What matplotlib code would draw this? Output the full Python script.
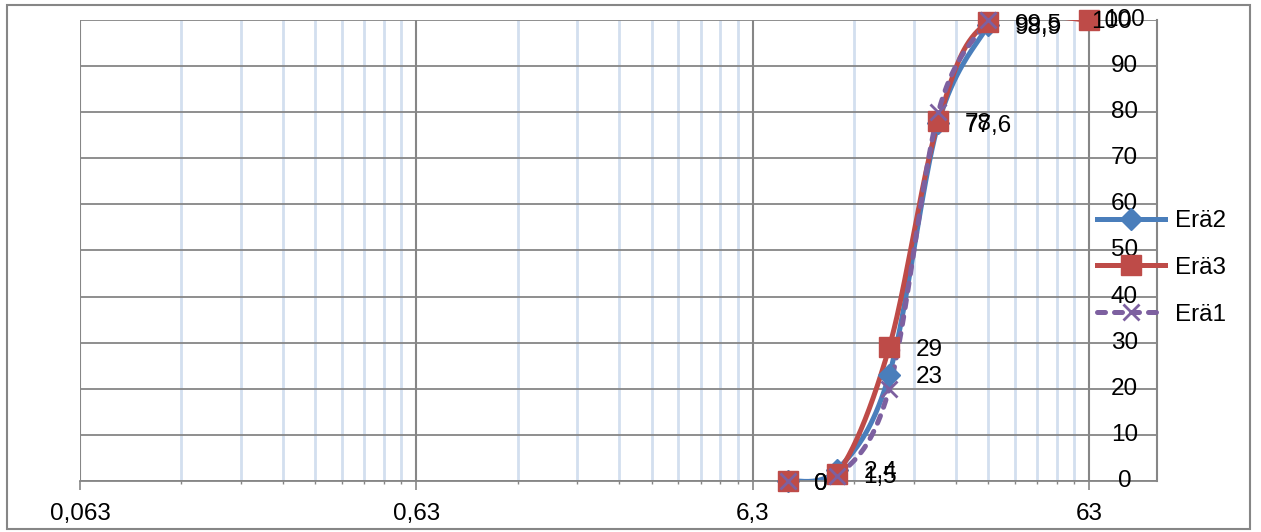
import matplotlib.pyplot as plt
import numpy as np
from matplotlib.lines import Line2D
from matplotlib.patches import Rectangle
from matplotlib.ticker import FixedLocator, NullFormatter

plt.rcParams['font.family'] = ['Liberation Sans', 'DejaVu Sans']

# seulakoot (mm) ja läpäisy-%
seulat = [8, 11.2, 16, 22.4, 31.5]
seulat_era3 = [8, 11.2, 16, 22.4, 31.5, 63]
era2 = [0, 2.4, 23, 77.6, 98.9]
era3 = [0, 1.5, 29, 78, 99.5, 100]
era1 = [0, 1, 20, 80, 100]

x_ticks = [0.063, 0.63, 6.3, 63]
x_tick_labels = ['0,063', '0,63', '6,3', '63']
y_ticks = list(range(0, 101, 10))

FS = 17.5
GRAY = '#868686'


def smooth(xs, ys, n=40):
    # Excel-tyylinen pehmennetty viiva (Bezier, Catmull-Rom tangentit) log-x avaruudessa
    lx = np.log10(np.asarray(xs, float))
    y = np.asarray(ys, float)
    px = np.concatenate([[lx[0]], lx, [lx[-1]]])
    py = np.concatenate([[y[0]], y, [y[-1]]])
    t = np.linspace(0, 1, n)
    out_x, out_y = [], []
    for i in range(1, len(px) - 2):
        p0 = np.array([px[i - 1], py[i - 1]])
        p1 = np.array([px[i], py[i]])
        p2 = np.array([px[i + 1], py[i + 1]])
        p3 = np.array([px[i + 2], py[i + 2]])
        c1 = p1 + (p2 - p0) / 6
        c2 = p2 - (p3 - p1) / 6
        b = ((1 - t) ** 3)[:, None] * p1 + (3 * (1 - t) ** 2 * t)[:, None] * c1 \
            + (3 * (1 - t) * t ** 2)[:, None] * c2 + (t ** 3)[:, None] * p2
        out_x.append(b[:, 0])
        out_y.append(b[:, 1])
    return 10 ** np.concatenate(out_x), np.concatenate(out_y)


def fmt(v):
    return f'{v:g}'.replace('.', ',')


fig = plt.figure(figsize=(12.61, 5.32), dpi=100)
ax = fig.add_axes([80 / 1261, 51 / 532, 1077 / 1261, 461 / 532])
ax.set_xscale('log')
ax.set_xlim(0.063, 100)
ax.set_ylim(0, 100)

# ruudukko
minor = [0.063 * k * 10 ** d for d in range(3) for k in range(2, 10)]
ax.xaxis.set_major_locator(FixedLocator(x_ticks))
ax.xaxis.set_minor_locator(FixedLocator(minor))
ax.xaxis.set_minor_formatter(NullFormatter())
ax.set_xticklabels(x_tick_labels)
ax.set_yticks(y_ticks)
ax.grid(which='major', axis='x', color=GRAY, lw=1.5)
ax.grid(which='minor', axis='x', color='#d3dfef', lw=2)
ax.grid(which='major', axis='y', color=GRAY, lw=1.3)
ax.set_axisbelow(True)
ax.tick_params(axis='x', which='major', direction='out', length=6.5, width=1.2,
               color=GRAY, pad=9, labelsize=FS)
ax.tick_params(axis='x', which='minor', direction='out', length=2.5, width=1,
               color=GRAY)
ax.tick_params(axis='y', length=0, labelleft=False)
for s in ['top', 'left']:
    ax.spines[s].set_visible(False)
ax.spines['bottom'].set_color(GRAY)
ax.spines['bottom'].set_linewidth(1.3)
ax.spines['right'].set_color(GRAY)
ax.spines['right'].set_linewidth(1.5)

# y-akselin arvot pystyakselin (x = 63) oikealla puolella
for v in y_ticks:
    ax.text(80, v, str(v), ha='center', va='center', fontsize=FS)

sarjat = [
    ('Erä2', seulat, era2, '#4a7ebb', 'D', 11, '-', True),
    ('Erä3', seulat_era3, era3, '#be4b48', 's', 15, '-', True),
    ('Erä1', seulat, era1, '#7d60a0', 'x', 12, (0, (1.6, 1.8)), False),
]

handles = []
for nimi, xs, ys, vari, merkki, koko, tyyli, arvot in sarjat:
    sx, sy = smooth(xs, ys)
    ax.plot(sx, sy, color=vari, lw=3.6, ls=tyyli, solid_capstyle='round',
            dash_capstyle='round')
    mew = 2 if merkki == 'x' else 1
    ax.plot(xs, ys, ls='none', marker=merkki, ms=koko, color=vari, mew=mew,
            clip_on=False, zorder=3)
    handles.append(Line2D([], [], color=vari, lw=3.6, ls=tyyli, marker=merkki,
                          ms=koko, mew=mew, dash_capstyle='round'))
    if arvot:
        for xv, yv in zip(xs, ys):
            dx = 19 if xv < 60 else 1.5
            ax.annotate(fmt(yv), (xv, yv), xytext=(dx, 0), textcoords='offset points',
                        ha='left', va='center_baseline', fontsize=FS,
                        annotation_clip=False)

fig.legend(handles, [s[0] for s in sarjat], loc='center left',
           bbox_to_anchor=(1097 / 1261, 1 - 268 / 532), frameon=False,
           fontsize=FS, handlelength=2.8, handletextpad=0.4, labelspacing=1.02,
           borderpad=0, borderaxespad=0)

fig.add_artist(Rectangle((7 / 1261, 3 / 532), 1243 / 1261, 524 / 532,
                         transform=fig.transFigure, fill=False, ec=GRAY, lw=1.5))

fig.savefig('out.png', dpi=100)
